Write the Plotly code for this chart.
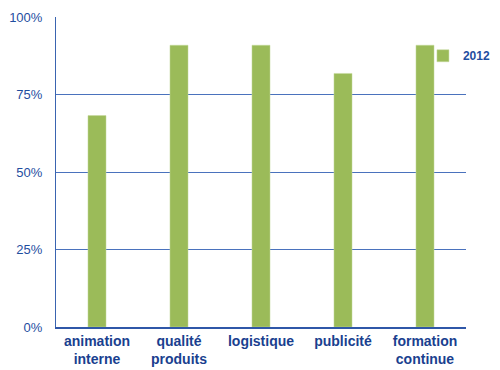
import plotly.graph_objects as go

categories = ["animation<br>interne", "qualité<br>produits", "logistique", "publicité", "formation<br>continue"]
values_2012 = [0.682, 0.909, 0.909, 0.818, 0.909]
y_ticks = [0, 0.25, 0.5, 0.75, 1.0]
y_tick_labels = ["0%", "25%", "50%", "75%", "100%"]

BLUE = "#1f4e9f"
GREEN = "#9bbb59"

fig = go.Figure()
fig.add_trace(go.Bar(x=categories, y=values_2012, name="2012",
                     marker=dict(color=GREEN, line=dict(color="#c6dba0", width=0.5)),
                     width=0.22))

# page body has an 8px default margin, so the figure is shrunk by 8px
fig.update_layout(
    width=492, height=362,
    margin=dict(l=48, r=34, t=9, b=43, autoexpand=False),
    paper_bgcolor="white", plot_bgcolor="white",
    font=dict(family="Liberation Sans, Arial, sans-serif", color=BLUE, size=13),
    showlegend=True,
    legend=dict(x=0.895, y=0.875, xanchor="left", yanchor="middle",
                font=dict(size=12, color=BLUE, weight="bold"),
                bgcolor="rgba(0,0,0,0)", itemwidth=30, borderwidth=0),
)
fig.update_yaxes(range=[0, 1], tickvals=y_ticks, ticktext=y_tick_labels,
                 showgrid=True, gridcolor="#4a72bd", gridwidth=1,
                 showline=True, linecolor="#3a64b0", linewidth=1,
                 ticks="", ticklabelstandoff=10, zeroline=False, automargin=False,
                 tickfont=dict(size=13, color=BLUE))
fig.update_xaxes(showline=True, linecolor="#2f57a8", linewidth=1.5, automargin=False,
                 ticks="", tickfont=dict(size=14, color="#1a3f8f", weight="bold"))

fig.write_html("out.html")
